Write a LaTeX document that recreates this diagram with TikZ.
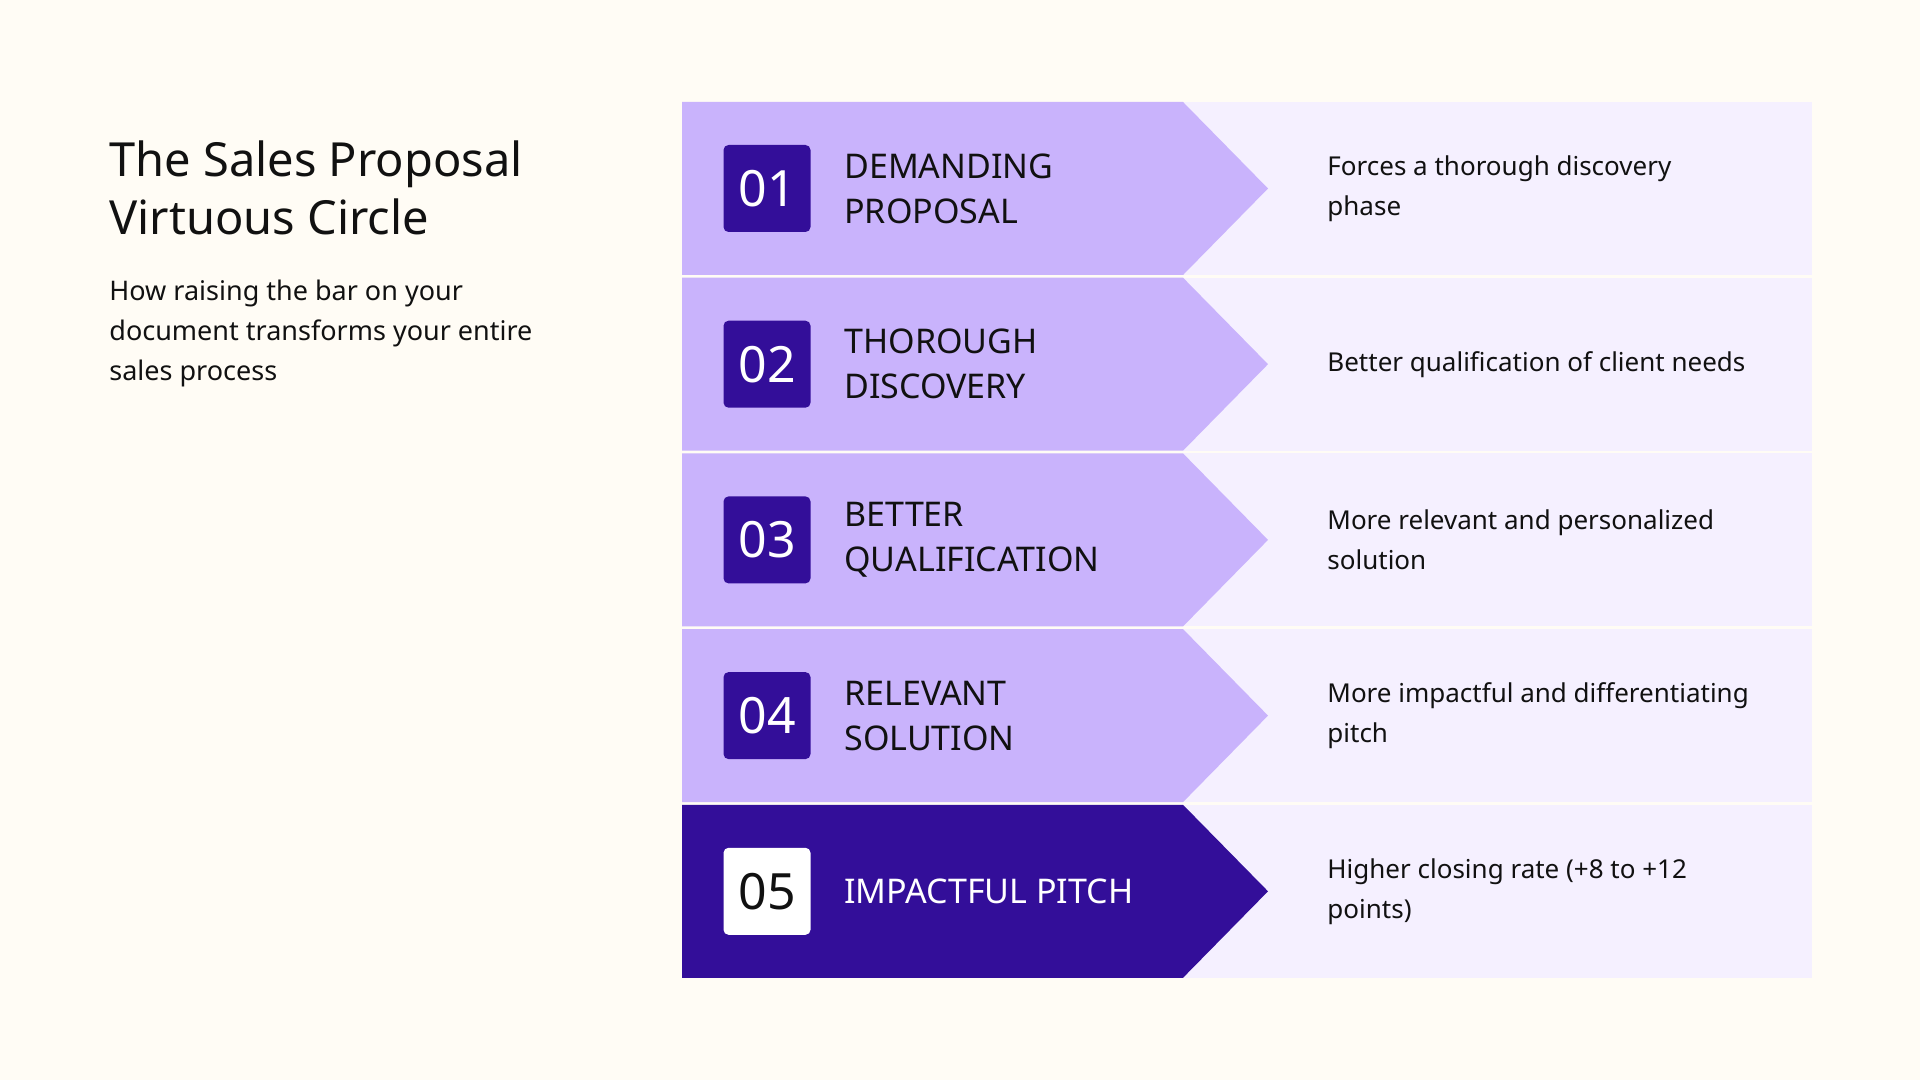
\documentclass[tikz,border=0pt]{standalone}
\usepackage{fontspec}
\setmainfont{Noto Sans}
\definecolor{bg}{HTML}{FFFCF5}
\definecolor{lav}{HTML}{C9B3FC}
\definecolor{pale}{HTML}{F5F0FF}
\definecolor{deep}{HTML}{330E99}
\definecolor{ink}{HTML}{111111}
\begin{document}
\begin{tikzpicture}[x=0.5pt,y=-0.5pt,
  num/.style={minimum size=43.5pt,rounded corners=2.5pt,inner sep=0pt,font=\fontsize{25}{25}\selectfont},
  lab/.style={anchor=west,align=left,font=\bfseries\fontsize{17}{22.5}\selectfont,inner sep=0pt},
  desc/.style={anchor=west,align=left,font=\fontsize{13}{20}\selectfont,text=ink,inner sep=0pt}]
\fill[bg] (0,0) rectangle (1920,1080);
\useasboundingbox (0,0) rectangle (1920,1080);
\node[anchor=north west,align=left,inner sep=0pt,text=ink,font=\fontsize{23.5}{29}\selectfont] (title) at (109,140) {The Sales Proposal\\Virtuous Circle};
\node[anchor=north west,align=left,inner sep=0pt,text=ink,font=\fontsize{13.5}{20}\selectfont] (sub) at (109,280) {How raising the bar on your\\document transforms your entire\\sales process};
\foreach \i/\n/\l/\d in {0/01/{DEMANDING\\PROPOSAL}/{Forces a thorough discovery\\phase},
  1/02/{THOROUGH\\DISCOVERY}/{Better qualification of client needs},
  2/03/{BETTER\\QUALIFICATION}/{More relevant and personalized\\solution},
  3/04/{RELEVANT\\SOLUTION}/{More impactful and differentiating\\pitch},
  4/05/{IMPACTFUL PITCH}/{Higher closing rate (+8 to +12\\points)}}{
  \pgfmathsetmacro{\t}{102+\i*175.7}
  \pgfmathsetmacro{\b}{\t+173}
  \pgfmathsetmacro{\c}{\t+86.5}
  \fill[pale] (1183,\t) rectangle (1812,\b);
  \ifnum\i=4
    \fill[deep] (682,\t) -- (1183,\t) -- (1268,\c) -- (1183,\b) -- (682,\b) -- cycle;
    \node[num,fill=white,text=ink] (n\i) at (767,\c) {\n};
    \node[lab,text=white] (l\i) at (844,\c) {\l};
  \else
    \fill[lav] (682,\t) -- (1183,\t) -- (1268,\c) -- (1183,\b) -- (682,\b) -- cycle;
    \node[num,fill=deep,text=white] (n\i) at (767,\c) {\n};
    \node[lab,text=ink] (l\i) at (844,\c) {\l};
  \fi
  \node[desc] (d\i) at (1327,\c) {\d};
}
\end{tikzpicture}
\end{document}
